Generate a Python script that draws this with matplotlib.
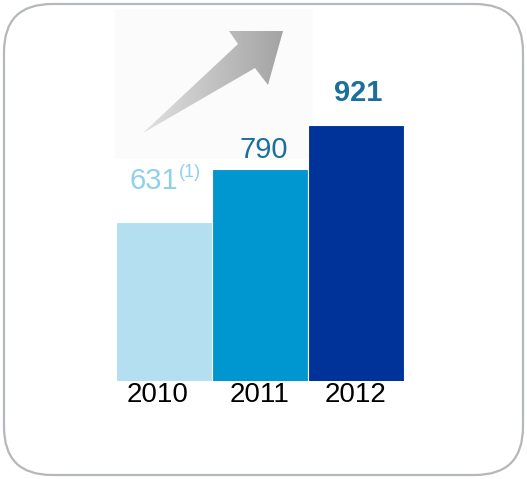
import numpy as np
import matplotlib
matplotlib.use("Agg")
import matplotlib.pyplot as plt
from matplotlib.patches import FancyBboxPatch, Polygon, Rectangle

plt.rcParams['font.family'] = ['Liberation Sans', 'DejaVu Sans']

years = ["2010", "2011", "2012"]
values = [631, 790, 921]
bar_colors = ["#b3dff1", "#0096d0", "#003399"]
label_colors = ["#8fd0ec", "#1a6f9c", "#1a6f9c"]
label_weights = ["normal", "normal", "bold"]

W, H = 527, 479
fig = plt.figure(figsize=(W / 100, H / 100), dpi=100)

# background layer in pixel coords
bg = fig.add_axes([0, 0, 1, 1])
bg.axis("off")

box = FancyBboxPatch((4, 4), 519, 471, boxstyle="round,pad=0,rounding_size=48",
                     fc="white", ec="#b4b8bc", lw=1.6, zorder=1)
bg.add_patch(box)

# faint square behind the arrow
bg.add_patch(Rectangle((115, 9), 198, 150, fc="#fbfbfb", ec="none", zorder=2))

# gradient arrow
arrow_pts = [(143, 133), (238, 44), (229, 31), (283, 31), (268, 85), (255, 68)]
arrow = Polygon(arrow_pts, closed=True, fc="none", ec="none", zorder=3)
bg.add_patch(arrow)
grad = np.linspace(0.88, 0.64, 256).reshape(1, -1)
im = bg.imshow(grad, cmap="gray", vmin=0, vmax=1, extent=(143, 283, 133, 31),
               aspect="auto", interpolation="bilinear", zorder=4)
im.set_clip_path(arrow)
bg.set_xlim(0, W)
bg.set_ylim(H, 0)

# bar chart
ax = fig.add_axes([116 / W, (H - 381) / H, (404 - 116) / W, 266 / H])
ax.patch.set_alpha(0)
x = np.arange(len(years))
bars = ax.bar(x, values, width=1.0, color=bar_colors, bottom=0,
              edgecolor="white", linewidth=0.8)
ax.set_xlim(-0.5, 2.5)
ax.set_ylim(157.5, 950)
for s in ax.spines.values():
    s.set_visible(False)
ax.set_yticks([])
ax.set_xticks(x)
ax.set_xticklabels(years, fontsize=20, color="black")
ax.tick_params(axis="x", length=0, pad=1)
for lbl, dx in zip(ax.get_xticklabels(), [-6, 0, 0]):
    lbl.set_transform(lbl.get_transform() + matplotlib.transforms.ScaledTranslation(dx / 100, 0, fig.dpi_scale_trans))

offsets = [(-10, 27), (4, 5), (2, 18)]
for i, v in enumerate(values):
    t = ax.annotate(str(v), xy=(x[i], v), xytext=offsets[i], textcoords="offset pixels",
                    ha="center", va="bottom", fontsize=21, color=label_colors[i],
                    fontweight=label_weights[i])
    if i == 0:
        ax.annotate("(1)", xy=(1, 1), xycoords=t, xytext=(1, 3), textcoords="offset pixels",
                    ha="left", va="top", fontsize=13, color=label_colors[i])

fig.savefig("out.png", dpi=100)
